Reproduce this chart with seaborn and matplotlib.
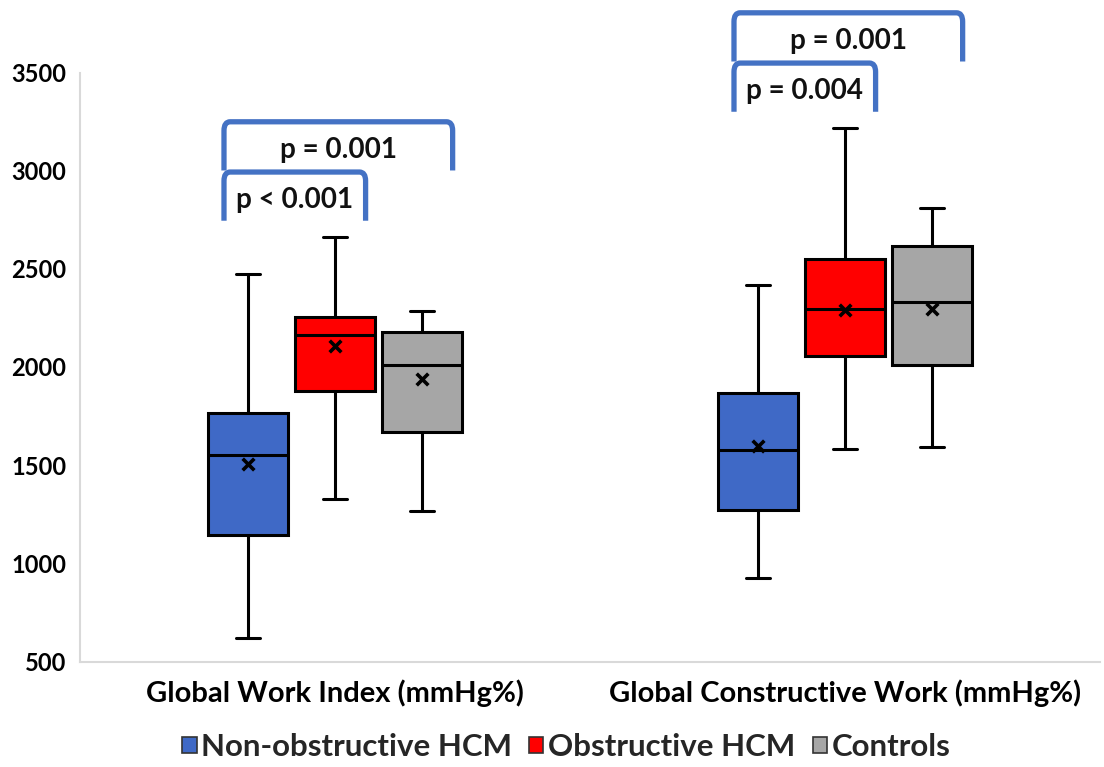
import numpy as np
import pandas as pd
import matplotlib
matplotlib.use("Agg")
import matplotlib.pyplot as plt
from matplotlib.patches import Patch, PathPatch
from matplotlib.path import Path
import seaborn as sns

# ---- data -------------------------------------------------------------
metrics = ["Global Work Index (mmHg%)", "Global Constructive Work (mmHg%)"]
groups = ["Non-obstructive HCM", "Obstructive HCM", "Controls"]

# five-number summaries per group (order follows `groups`)
gwi_min = [620, 1330, 1265]
gwi_q1 = [1145, 1880, 1670]
gwi_median = [1550, 2165, 2010]
gwi_q3 = [1765, 2255, 2180]
gwi_max = [2475, 2660, 2285]
gwi_mean = [1505, 2105, 1940]

gcw_min = [925, 1580, 1590]
gcw_q1 = [1270, 2055, 2010]
gcw_median = [1575, 2295, 2330]
gcw_q3 = [1870, 2550, 2615]
gcw_max = [2420, 3215, 2810]
gcw_mean = [1600, 2290, 2295]

y_ticks = [500, 1000, 1500, 2000, 2500, 3000, 3500]

# pairwise comparisons: (metric index, group a, group b, label)
comparisons = [
    (0, 0, 1, "p < 0.001"),
    (0, 0, 2, "p = 0.001"),
    (1, 0, 1, "p = 0.004"),
    (1, 0, 2, "p = 0.001"),
]

# ---- styling ------------------------------------------------------------
palette = {"Non-obstructive HCM": "#3F69C6",
           "Obstructive HCM": "#FF0000",
           "Controls": "#A6A6A6"}
bracket_color = "#4472C4"
box_width = 0.512
box_gap = 0.09

sns.set_theme(style="white")
plt.rcParams["font.family"] = ["Lato", "DejaVu Sans"]
plt.rcParams["font.weight"] = "bold"

# Long-form table: the five summary values of each box, so that
# whiskers at the 0th/100th percentile land on min/max and the quartiles
# fall exactly on q1/median/q3.
summaries = {
    metrics[0]: (gwi_min, gwi_q1, gwi_median, gwi_q3, gwi_max),
    metrics[1]: (gcw_min, gcw_q1, gcw_median, gcw_q3, gcw_max),
}
rows = []
for metric, cols in summaries.items():
    for gi, g in enumerate(groups):
        for col in cols:
            rows.append({"metric": metric, "group": g, "value": col[gi]})
df = pd.DataFrame(rows)

fig = plt.figure(figsize=(11.04, 7.67), dpi=100)
ax = fig.add_axes([80 / 1104, 105.5 / 767, 1020 / 1104, 589 / 767])

sns.boxplot(data=df, x="metric", y="value", hue="group",
            order=metrics, hue_order=groups, palette=palette, saturation=1,
            whis=(0, 100), width=box_width, gap=box_gap,
            linecolor="black", linewidth=2.2, fliersize=0,
            capwidths=0.047, legend=False, ax=ax)

# group means as crosses
offsets = (np.arange(len(groups)) - (len(groups) - 1) / 2) * box_width / len(groups)
means = [gwi_mean, gcw_mean]
for mi in range(len(metrics)):
    ax.scatter(mi + offsets, means[mi], marker="x", s=70, color="black",
               linewidths=2.6, zorder=5)

# axes cosmetics
ax.set_xlim(-0.5, 1.5)
ax.set_ylim(500, 3500)
ax.set_yticks(y_ticks)
ax.set_yticklabels([str(t) for t in y_ticks], fontsize=17, fontweight="bold")
ax.set_xticks(range(len(metrics)))
ax.set_xticklabels(metrics, fontsize=21, fontweight="bold")
ax.tick_params(axis="y", length=0, pad=10, colors="black")
ax.tick_params(axis="x", length=0, pad=13, colors="black")
ax.set_xlabel("")
ax.set_ylabel("")
for side in ("top", "right"):
    ax.spines[side].set_visible(False)
for side in ("left", "bottom"):
    ax.spines[side].set_color("#D9D9D9")
    ax.spines[side].set_linewidth(1.5)
ax.grid(False)


def bracket(x0, x1, base, top, label):
    rx, ry = 0.012, 45
    verts = [(x0, base), (x0, top - ry), (x0, top), (x0 + rx, top),
             (x1 - rx, top), (x1, top), (x1, top - ry), (x1, base)]
    codes = [Path.MOVETO, Path.LINETO, Path.CURVE3, Path.CURVE3,
             Path.LINETO, Path.CURVE3, Path.CURVE3, Path.LINETO]
    ax.add_patch(PathPatch(Path(verts, codes), fill=False, edgecolor=bracket_color,
                           linewidth=3.8, clip_on=False, zorder=6,
                           capstyle="butt", joinstyle="round"))
    ax.text((x0 + x1) / 2, base + 105, label, ha="center", va="center",
            fontsize=20, fontweight="bold", color="#111111", clip_on=False)


maxes = [gwi_max, gcw_max]
height = 248
level_top = {}
for mi, a, b, label in comparisons:
    x0 = mi + offsets[a] - 0.047
    x1 = mi + offsets[b] + 0.06
    prev = level_top.get(mi)
    base = (max(maxes[mi][a:b + 1]) + 85) if prev is None else prev + 8
    top = base + height
    level_top[mi] = top
    bracket(x0, x1, base, top, label)

handles = [Patch(facecolor=palette[g], edgecolor="#333333", linewidth=1.2) for g in groups]
fig.legend(handles, groups, loc="center", bbox_to_anchor=(0.513, 0.026), ncol=3,
           frameon=False, handlelength=0.45, handleheight=0.45, handletextpad=0.15,
           columnspacing=0.55, prop={"size": 22.5, "weight": "bold"})

fig.savefig("out.png", dpi=100)
